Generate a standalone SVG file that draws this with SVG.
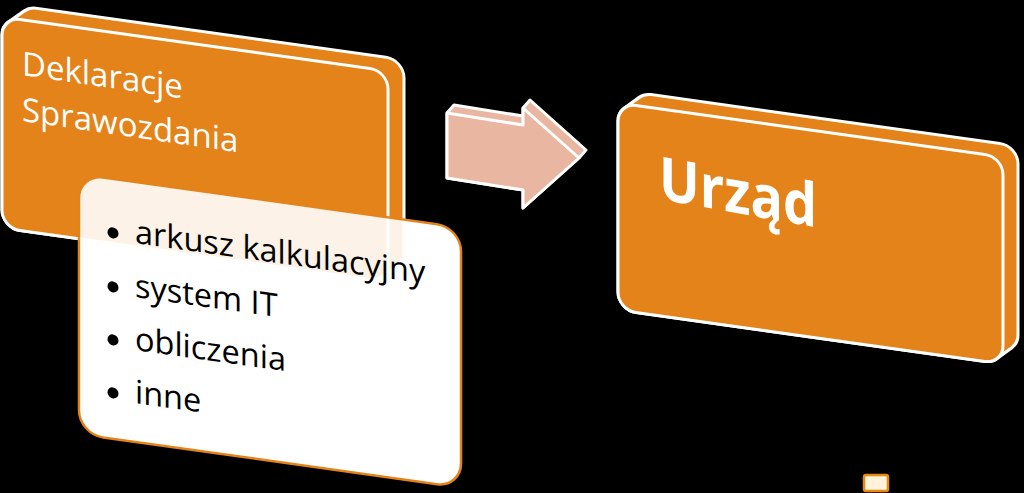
<svg xmlns="http://www.w3.org/2000/svg" width="1024" height="493" viewBox="0 0 1024 493">
  <style>
    .solid { fill: #E3831A; stroke: #FFFFFF; stroke-width: 3; stroke-linejoin: round; }
    .face { fill: #E3831A; stroke: #FFFFFF; stroke-width: 3; }
    .arrow { fill: #E9B6A1; stroke: #FFFFFF; stroke-width: 3; stroke-linejoin: round; }
    .title { font-family: "Open Sans", "Liberation Sans", sans-serif; font-size: 33px; fill: #FFFFFF; }
    .big { font-family: "Open Sans", "Liberation Sans", sans-serif; font-size: 60px; font-weight: 700; fill: #FFFFFF; }
    .item { font-family: "Open Sans", "Liberation Sans", sans-serif; font-size: 32.5px; fill: #000000; }
  </style>
  <defs>
    <path id="leftSolid" d="M 22.39,-9.26 A 18 18 0 0 1 34,-13.5 L 384,-13.5 A 18 18 0 0 1 402,4.5 L 402,179.5 A 18 18 0 0 1 395.61,193.26 L 379.61,206.76 A 18 18 0 0 1 368,211 L 18,211 A 18 18 0 0 1 0,193 L 0,18 A 18 18 0 0 1 6.39,4.24 Z"/>
    <clipPath id="whiteClip">
      <rect x="79" y="163" width="382" height="260" rx="24" ry="24" transform="matrix(1,0.14,0,1,0,0)"/>
    </clipPath>
  </defs>

  <rect x="0" y="0" width="1024" height="493" fill="#000000"/>

  <!-- Left node: Deklaracje Sprawozdania -->
  <g id="node-deklaracje">
    <g transform="matrix(1,0.14,0,1,2,17)">
      <use href="#leftSolid" class="solid"/>
      <rect x="0" y="0" width="386" height="211" rx="18" ry="18" class="face"/>
    </g>
    <text class="title" transform="matrix(1,0.145,0,1,22,75)">
      <tspan x="0" y="0">Deklaracje</tspan>
      <tspan x="0" y="46">Sprawozdania</tspan>
    </text>
  </g>

  <!-- White node: list -->
  <g id="node-lista">
    <rect x="79" y="163" width="382" height="260" rx="24" ry="24" transform="matrix(1,0.14,0,1,0,0)" fill="#FFFFFF" stroke="#E3831A" stroke-width="2.5"/>
    <g clip-path="url(#whiteClip)" opacity="0.1">
      <g transform="matrix(1,0.14,0,1,2,17)">
        <use href="#leftSolid" class="solid"/>
        <rect x="0" y="0" width="386" height="211" rx="18" ry="18" class="face"/>
      </g>
    </g>
    <g transform="matrix(1,0.14,0,1,135,243)">
      <circle cx="-22" cy="-7" r="5.5" fill="#000000"/>
      <circle cx="-22" cy="47" r="5.5" fill="#000000"/>
      <circle cx="-22" cy="100" r="5.5" fill="#000000"/>
      <circle cx="-22" cy="153" r="5.5" fill="#000000"/>
      <text class="item">
        <tspan x="0" y="0">arkusz kalkulacyjny</tspan>
        <tspan x="0" y="54">system IT</tspan>
        <tspan x="0" y="107">obliczenia</tspan>
        <tspan x="0" y="160">inne</tspan>
      </text>
    </g>
  </g>

  <!-- Connector: 3D arrow -->
  <g id="connectors">
    <polygon class="arrow" points="447,178 447,113 454,105 523,116 523,108 530,100 586,150 579,158 523,208 523,190"/>
    <polygon class="arrow" points="447,113 523,125 523,108 579,158 523,208 523,190 447,178"/>
  </g>

  <!-- Right node: Urząd -->
  <g id="node-urzad">
    <g transform="matrix(1,0.14,0,1,618,103)">
      <path class="solid" d="M 21.21,-8.6 A 18 18 0 0 1 33,-13 L 382,-13 A 18 18 0 0 1 400,5 L 400,176 A 18 18 0 0 1 393.79,189.6 L 378.79,202.6 A 18 18 0 0 1 367,207 L 18,207 A 18 18 0 0 1 0,189 L 0,18 A 18 18 0 0 1 6.21,4.4 Z"/>
      <rect x="0" y="0" width="385" height="207" rx="18" ry="18" class="face"/>
    </g>
    <text class="big" transform="matrix(1,0.18,0,1,659,199)" x="0" y="0" textLength="158" lengthAdjust="spacingAndGlyphs">Urząd</text>
  </g>

  <!-- Small fragment at bottom -->
  <g id="fragment">
    <rect x="864" y="475" width="24" height="16" rx="2" ry="2" fill="#FFF3DC" stroke="#E8890F" stroke-width="2.5"/>
  </g>
</svg>
